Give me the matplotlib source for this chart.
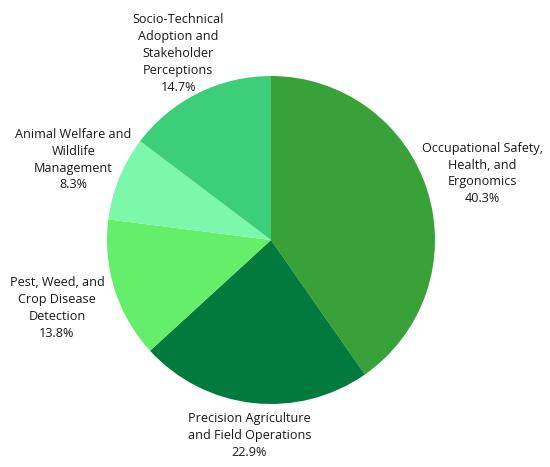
import numpy as np
import matplotlib
matplotlib.use("Agg")
import matplotlib.pyplot as plt

categories = [
    "Occupational Safety,\nHealth, and\nErgonomics",
    "Precision Agriculture\nand Field Operations",
    "Pest, Weed, and\nCrop Disease\nDetection",
    "Animal Welfare and\nWildlife\nManagement",
    "Socio-Technical\nAdoption and\nStakeholder\nPerceptions",
]
shares = [40.3, 22.9, 13.8, 8.3, 14.7]
colors = ["#38a137", "#027a3d", "#64ee6a", "#7cf8aa", "#3dce7a"]
label_dist = [1.35, 1.2, 1.37, 1.3, 1.27]

plt.rcParams['font.family'] = ['Open Sans', 'DejaVu Sans']

fig = plt.figure(figsize=(5.5, 4.67), dpi=100)
cx, cy, r = 271, 240, 164
W, H = 550, 467
ax = fig.add_axes([(cx - r) / W, (H - cy - r) / H, 2 * r / W, 2 * r / H])
wedges, _ = ax.pie(shares, colors=colors, startangle=90, counterclock=False,
                   radius=1.0, wedgeprops=dict(linewidth=0))
ax.set_xlim(-1, 1)
ax.set_ylim(-1, 1)
ax.set_aspect('auto')
ax.axis('off')

for w, lab, v, d in zip(wedges, categories, shares, label_dist):
    ang = np.deg2rad((w.theta1 + w.theta2) / 2)
    ax.text(d * np.cos(ang), d * np.sin(ang), f"{lab}\n{v}%",
            ha='center', va='center', fontsize=9.1, color='#1a1a1a',
            linespacing=1.38, multialignment='center')

fig.savefig("out.png", dpi=100, facecolor='white')
